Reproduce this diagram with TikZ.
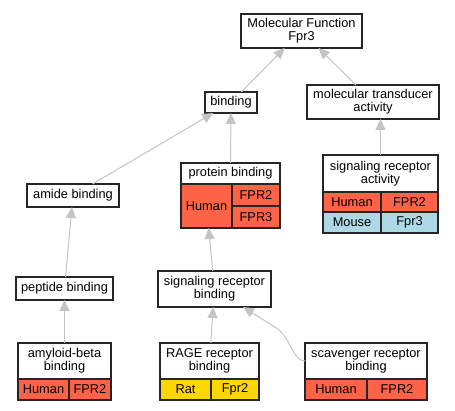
\documentclass[tikz,border=0pt]{standalone}
\usepackage{fontspec}
\setmainfont{Liberation Sans}
\usetikzlibrary{arrows.meta}
\definecolor{hred}{HTML}{FF6347}
\definecolor{rgold}{HTML}{FFD700}
\definecolor{mblue}{HTML}{ADD8E6}
\definecolor{edgegray}{HTML}{C4C4C4}
\tikzset{
  box/.style={draw=black!85, line width=1.1pt, fill=white, inner sep=0pt, outer sep=0pt,
    align=center, font=\fontsize{12.8}{12.8}\selectfont},
  sz/.style 2 args={minimum width=#1pt, minimum height=#2pt},
  hum/.style={box, fill=hred},
  rat/.style={box, fill=rgold},
  mou/.style={box, fill=mblue},
  edge/.style={draw=edgegray, line width=1pt, -{Triangle[length=11pt,width=10pt]}}
}
\begin{document}
\begin{tikzpicture}[x=1pt,y=-1pt]
\useasboundingbox (0,0) rectangle (455,411);
% top nodes
\node[box, sz={121}{34}] (mf) at (301.5,31) {Molecular Function\\Fpr3};
\node[box, sz={52}{21}] (bind) at (231,102.5) {binding};
\node[box, sz={132}{34}] (mta) at (373,102) {molecular transducer\\activity};
\node[box, sz={92}{23}] (amide) at (73,195.5) {amide binding};
% protein binding
\node[box, sz={99}{21}] (pb) at (230.5,173.5) {protein binding};
\node[hum, sz={51}{44}] (pbH) at (206.5,206) {Human};
\node[hum, sz={48}{22}] (pbF2) at (256,195) {FPR2};
\node[hum, sz={48}{22}] (pbF3) at (256,217) {FPR3};
% signaling receptor activity
\node[box, sz={115}{37}] (sra) at (380.5,173.5) {signaling receptor\\activity};
\node[hum, sz={58}{20}] (sraH) at (352,202) {Human};
\node[hum, sz={57}{20}] (sraF) at (409.5,202) {FPR2};
\node[mou, sz={58}{21}] (sraM) at (352,222.5) {Mouse};
\node[mou, sz={57}{21}] (sraP) at (409.5,222.5) {Fpr3};
% middle
\node[box, sz={97}{23}] (pep) at (64.5,288.5) {peptide binding};
\node[box, sz={113}{36}] (srb) at (214.5,289) {signaling receptor\\binding};
% bottom
\node[box, sz={93}{36}] (amy) at (64.5,361) {amyloid-beta\\binding};
\node[hum, sz={51}{21}] (amyH) at (43.5,389.5) {Human};
\node[hum, sz={42}{21}] (amyF) at (90,389.5) {FPR2};
\node[box, sz={99}{36}] (rage) at (209.5,361) {RAGE receptor\\binding};
\node[rat, sz={51}{21}] (rageR) at (185.5,389.5) {Rat};
\node[rat, sz={48}{21}] (rageF) at (235,389.5) {Fpr2};
\node[box, sz={122}{36}] (scav) at (366,361) {scavenger receptor\\binding};
\node[hum, sz={62}{21}] (scavH) at (336,389.5) {Human};
\node[hum, sz={60}{21}] (scavF) at (397,389.5) {FPR2};
% edges
\draw[edge] (bind) -- (mf);
\draw[edge] (mta) -- (mf);
\draw[edge] (amide) -- (bind);
\draw[edge] (pb) -- (bind);
\draw[edge] (sra.north) -- (sra.north |- mta.south);
\draw[edge] (pep) -- (amide);
\draw[edge] (amy) -- (pep);
\draw[edge] (srb) -- (pbH);
\draw[edge] (rage) -- (srb);
\draw[edge] (scav.west) .. controls (293,361) and (292,341) .. (278,329) -- (srb);
\end{tikzpicture}
\end{document}
